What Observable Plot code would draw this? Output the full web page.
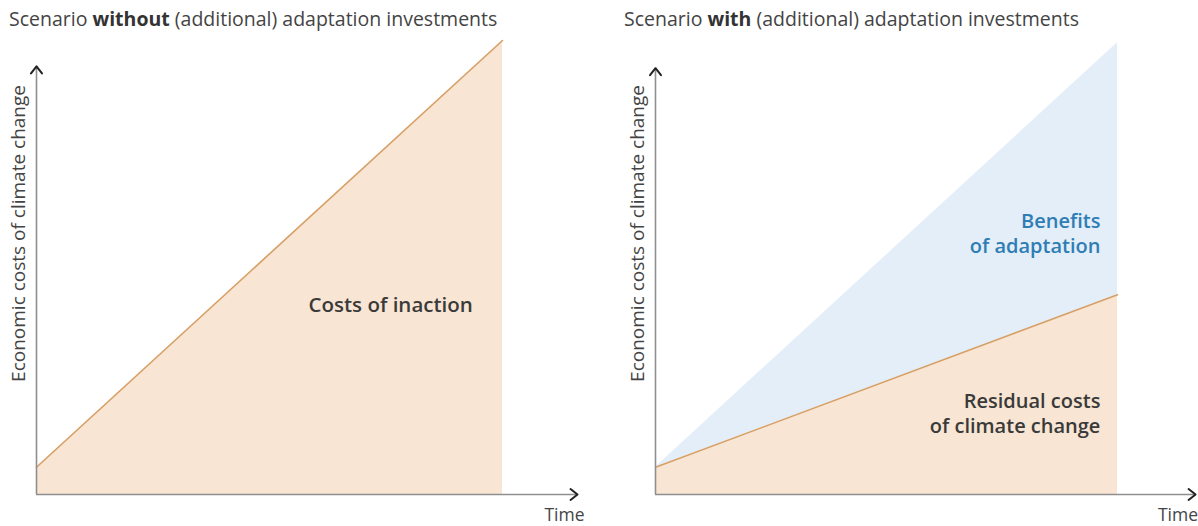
<!DOCTYPE html>
<html>
<head>
<meta charset="utf-8">
<script src="https://cdn.jsdelivr.net/npm/d3@7"></script>
<script src="https://cdn.jsdelivr.net/npm/@observablehq/plot@0.6"></script>
<style>
  body { margin: 0; background: #fff; font-family: "Open Sans", sans-serif; }
  #wrap { position: relative; width: 1198px; height: 526px; }
  .panel { position: absolute; top: 0; width: 599px; height: 526px; }
  .title { position: absolute; top: 6px; font-size: 19.5px; line-height: 26px; color: #444; white-space: nowrap; }
  .title b { font-weight: 700; color: #333; }
  .chart { position: absolute; top: 34px; left: 0; line-height: 0; }
</style>
</head>
<body>
<div id="wrap">
  <div class="panel" id="left" style="left:0">
    <div class="title" style="left:9px">Scenario <b>without</b> (additional) adaptation investments</div>
    <div class="chart" id="chartL"></div>
  </div>
  <div class="panel" id="right" style="left:599px">
    <div class="title" style="left:25px">Scenario <b>with</b> (additional) adaptation investments</div>
    <div class="chart" id="chartR"></div>
  </div>
</div>
<script>
// ---- data ----
const time = [0, 10];
const costsWithout = [0.6, 10];        // costs of inaction
const costsWithTotal = [0.6, 9.95];    // total costs without adaptation (top of benefits area)
const costsResidual = [0.6, 4.4];      // residual costs with adaptation
const yLabel = "Economic costs of climate change";
const xLabel = "Time";
const labelInaction = "Costs of inaction";
const labelBenefits = "Benefits\nof adaptation";
const labelResidual = "Residual costs\nof climate change";

const rowsL = time.map((t, i) => ({t, c: costsWithout[i]}));
const rowsR = time.map((t, i) => ({t, total: costsWithTotal[i], res: costsResidual[i]}));

const orangeFill = "#f8e5d3";
const orangeLine = "#d6a068";
const blueFill = "#e3eef8";
const axisGray = "#8f8f8f";
const font = "Open Sans";

const chevron = {
  draw(context) {
    context.moveTo(-5.5, 7);
    context.lineTo(0, 0);
    context.lineTo(5.5, 7);
  }
};

function axesMarks(xEnd, yEnd) {
  return [
    Plot.ruleY([0], {x1: 0, x2: xEnd, stroke: axisGray, strokeWidth: 1.6}),
    Plot.ruleX([0], {y1: 0, y2: yEnd, stroke: axisGray, strokeWidth: 1.6}),
    Plot.vector([0], {x: xEnd, y: 0, rotate: 90, length: 10, anchor: "start", shape: chevron, stroke: "#222", strokeWidth: 2}),
    Plot.vector([0], {x: 0, y: yEnd, rotate: 0, length: 10, anchor: "start", shape: chevron, stroke: "#222", strokeWidth: 2}),
    Plot.text([yLabel], {x: 0, y: 5.75, dx: -18, rotate: -90, text: d => d, fontSize: 19, fill: "#444", fontFamily: font}),
  ];
}

const common = {
  width: 599,
  height: 492,
  marginTop: 6,
  marginBottom: 32,
  x: {domain: [0, 10], axis: null},
  y: {domain: [0, 10], axis: null},
  style: {fontFamily: font, overflow: "visible", background: "transparent"}
};

const left = Plot.plot({
  ...common,
  marginLeft: 36,
  marginRight: 97,
  marks: [
    Plot.areaY(rowsL, {x: "t", y1: 0, y2: "c", fill: orangeFill}),
    Plot.line(rowsL, {x: "t", y: "c", stroke: orangeLine, strokeWidth: 1.6}),
    ...axesMarks(11.61, 9.43),
    Plot.text([xLabel], {x: 11.33, y: 0, dy: 21, text: d => d, fontSize: 17.5, fill: "#444", fontFamily: font}),
    Plot.text([labelInaction], {x: 7.6, y: 4.16, text: d => d, fontSize: 20.5, fontWeight: 600, fill: "#3a3a3a", fontFamily: font})
  ]
});

const right = Plot.plot({
  ...common,
  marginLeft: 56,
  marginRight: 81,
  marks: [
    Plot.areaY(rowsR, {x: "t", y1: "res", y2: "total", fill: blueFill}),
    Plot.areaY(rowsR, {x: "t", y1: 0, y2: "res", fill: orangeFill}),
    Plot.line(rowsR, {x: "t", y: "res", stroke: orangeLine, strokeWidth: 1.6}),
    ...axesMarks(11.69, 9.39),
    Plot.text([xLabel], {x: 11.31, y: 0, dy: 21, text: d => d, fontSize: 17.5, fill: "#444", fontFamily: font}),
    Plot.text([labelBenefits], {x: 9.63, y: 5.77, text: d => d, textAnchor: "end", lineHeight: 1.25, fontSize: 20, fontWeight: 600, fill: "#2f7db5", fontFamily: font}),
    Plot.text([labelResidual], {x: 9.63, y: 1.81, text: d => d, textAnchor: "end", lineHeight: 1.25, fontSize: 20, fontWeight: 600, fill: "#3a3a3a", fontFamily: font})
  ]
});

document.getElementById("chartL").append(left);
document.getElementById("chartR").append(right);
</script>
</body>
</html>
